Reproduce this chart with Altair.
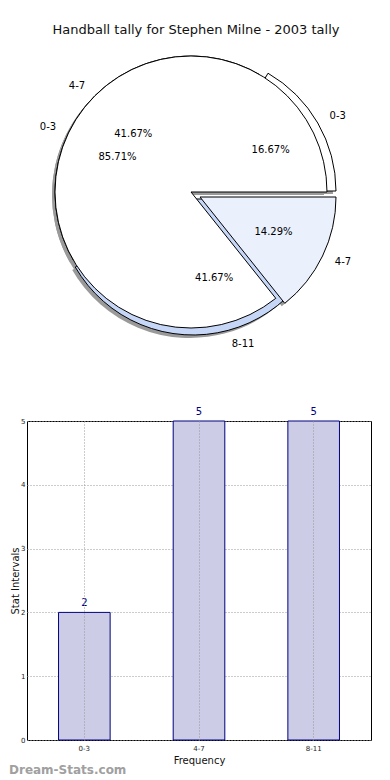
import math
import altair as alt
import pandas as pd

# ---- data -------------------------------------------------------------
categories = ["0-3", "4-7", "8-11"]
tally = [2, 5, 5]
share_labels = ["0-3", "4-7"]
share_values = [6, 1]

title_text = "Handball tally for Stephen Milne - 2003 tally"
x_title = "Frequency"
y_title = "Stat Intervals"
y_ticks = [0, 1, 2, 3, 4, 5]
watermark = "Dream-Stats.com"

# ---- styles -----------------------------------------------------------
slice_colors = ["#ffffff", "#eaf0fc", "#c6d6f7"]
explode_a = [(9, -1), (0, 0), (2, 7)]
explode_b = [(0, 0), (9, 5)]
FONT = "DejaVu Sans"
R = 136
CX, CY = 164, 184
PW = 344

theta_scale = alt.Scale(domain=[0, 1], range=[math.pi / 2, math.pi / 2 - 2 * math.pi])
color_scale = alt.Scale(domain=categories, range=slice_colors)

pie_a = pd.DataFrame({"label": categories, "value": tally, "order": list(range(len(categories)))})
pie_b = pd.DataFrame({"label": share_labels, "value": share_values, "order": list(range(len(share_labels)))})


def base(df):
    return (
        alt.Chart(df)
        .transform_joinaggregate(total="sum(value)")
        .transform_window(cum="sum(value)", sort=[alt.SortField("order")], frame=[None, 0])
        .transform_calculate(
            p0="(datum.cum - datum.value) / datum.total",
            p1="datum.cum / datum.total",
            pm="(datum.cum - datum.value / 2) / datum.total",
            frac="datum.value / datum.total",
        )
    )


def mids(values):
    tot = float(sum(values))
    acc = 0.0
    out = []
    for v in values:
        out.append((acc + v / 2.0) / tot)
        acc += v
    return out


shadows, arcs, texts = [], [], []
for df, labels, values, explode in [
    (pie_a, categories, tally, explode_a),
    (pie_b, share_labels, share_values, explode_b),
]:
    ms = mids(values)
    for lab, (dx, dy), m in zip(labels, explode, ms):
        sel = base(df).transform_filter(alt.datum.label == lab)
        enc = dict(
            theta=alt.Theta("p0:Q", scale=theta_scale, stack=None),
            theta2="p1:Q",
            x=alt.value(CX),
            y=alt.value(CY),
        )
        shadows.append(
            sel.mark_arc(radius=R, xOffset=dx - 3, yOffset=dy + 3, color="#9a9a9a").encode(**enc)
        )
        arcs.append(
            sel.mark_arc(radius=R, xOffset=dx, yOffset=dy, stroke="black", strokeWidth=1).encode(
                color=alt.Color("label:N", scale=color_scale, legend=None), **enc
            )
        )
        tenc = dict(
            theta=alt.Theta("pm:Q", scale=theta_scale, stack=None),
            x=alt.value(CX),
            y=alt.value(CY),
        )
        texts.append(
            sel.mark_text(radius=0.6 * R, xOffset=dx, yOffset=dy, fontSize=10, font=FONT,
                          color="black", align="center", baseline="middle").encode(
                text=alt.Text("frac:Q", format=".2%"), **tenc)
        )
        align = "left" if math.cos(2 * math.pi * m) >= 0 else "right"
        texts.append(
            sel.mark_text(radius=1.1 * R, xOffset=dx, yOffset=dy, fontSize=10, font=FONT,
                          color="black", align=align, baseline="middle").encode(
                text="label:N", **tenc)
        )

title_layer = alt.Chart(pd.DataFrame({"t": [title_text]})).mark_text(
    fontSize=13, font=FONT, color="#111", align="center", baseline="middle"
).encode(text="t:N", x=alt.value(169), y=alt.value(22))

pie = alt.layer(*shadows, *arcs, *texts, title_layer).properties(
    width=PW, height=400, view=alt.ViewBackground(stroke=None)
)

# ---- bar chart --------------------------------------------------------
bars_df = pd.DataFrame({"cat": categories, "count": tally})
bx = alt.X(
    "cat:N",
    sort=categories,
    scale=alt.Scale(paddingInner=0.55, paddingOuter=0.275),
    axis=alt.Axis(
        title=x_title, labelAngle=0, labelFontSize=7, titleFontSize=10, titleFontWeight="normal",
        labelFont=FONT, titleFont=FONT, grid=True, gridDash=[1, 2], gridColor="#999999",
        domain=False, ticks=False, bandPosition=0.5, labelPadding=4, titlePadding=4,
        labelColor="#222", titleColor="#111", zindex=1,
    ),
)
by = alt.Y(
    "count:Q",
    scale=alt.Scale(domain=[0, 5], nice=False),
    axis=alt.Axis(
        title=y_title, values=y_ticks, labelFontSize=7, titleFontSize=10, titleFontWeight="normal",
        labelFont=FONT, titleFont=FONT, grid=True, gridDash=[1, 2], gridColor="#999999",
        domain=False, ticks=False, labelPadding=2, titleX=-7, titleBaseline="bottom",
        titleAngle=270, format="d", labelColor="#222", titleColor="#111",
    ),
)
bar_base = alt.Chart(bars_df)
bars = bar_base.mark_bar(fill="#ccccE6", stroke="#000080", strokeWidth=1).encode(x=bx, y=by)
bar_text = bar_base.mark_text(dy=-4, baseline="bottom", fontSize=10, font=FONT, color="#000080").encode(
    x=alt.X("cat:N", sort=categories), y="count:Q", text="count:Q"
)
wm = alt.Chart(pd.DataFrame({"t": [watermark]})).mark_text(
    align="left", baseline="middle", fontSize=12, font=FONT, color="#a0a0a0", fontWeight="bold"
).encode(text="t:N", x=alt.value(-18), y=alt.value(349))

bar = alt.layer(bars, bar_text, wm).properties(
    width=PW, height=319, view=alt.ViewBackground(stroke="black", strokeWidth=1)
)

chart = alt.vconcat(pie, bar, spacing=13, bounds="flush", padding=0).configure(font=FONT)

chart.save("out.html", embed_options={"renderer": "svg", "actions": False})
